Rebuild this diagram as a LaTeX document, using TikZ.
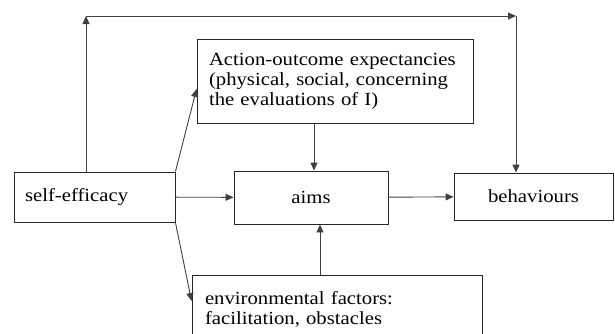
\documentclass[tikz,border=0pt]{standalone}
\usepackage{fontspec}
\setmainfont{Liberation Serif}[FakeStretch=1.12]
\usetikzlibrary{arrows.meta}

\begin{document}
\begin{tikzpicture}[
      x=1pt, y=-1pt,
      every node/.style={font={\fontsize{18.5}{20}\selectfont}},
      box/.style={rectangle, draw=black!85, line width=0.9pt, inner ysep=0pt},
      textbox/.style={box, align=left},
      centerbox/.style={box, align=center},
      msg/.style={draw=black!75, line width=0.9pt, -{Triangle[length=8pt,width=7pt]}}
  ]
    \useasboundingbox (0,0) rectangle (615,333);

    \node[textbox, text width=139pt, inner xsep=11pt, minimum height=50pt] (self) at (94.5,197) {self-efficacy};
    \node[centerbox, minimum width=154pt, minimum height=53pt] (aims) at (311,197.5) {aims};
    \node[centerbox, minimum width=159pt, minimum height=47pt] (behav) at (533.5,196.5) {behaviours};
    \node[textbox, text width=252pt, inner xsep=12pt, minimum height=84pt] (action) at (335,81.5) {Action-outcome expectancies\\(physical, social, concerning\\the evaluations of I)};
    \node[textbox, text width=264pt, inner xsep=13pt, minimum height=68pt] (env) at (337,309) {environmental factors:\\facilitation, obstacles};

    \coordinate (topl) at (86,16);
    \coordinate (topr) at (516,16);

    \draw[msg] (self) -- (aims);
    \draw[msg] (aims) -- (behav);
    \draw[msg] ([xshift=3pt]aims.north |- action.south) -- ([xshift=3pt]aims.north);
    \draw[msg] ([xshift=9pt]aims.south |- env.north) -- ([xshift=9pt]aims.south);
    \draw[msg] (self.north east) -- ([yshift=-7.5pt]action.west);
    \draw[msg] (self.south east) -- ([yshift=8pt]env.west);
    \draw[msg] (self.north -| topl) -- (topl);
    \draw[msg] (topl) -- (topr);
    \draw[msg] (topr) -- (topr |- behav.north);
  \end{tikzpicture}
\end{document}
